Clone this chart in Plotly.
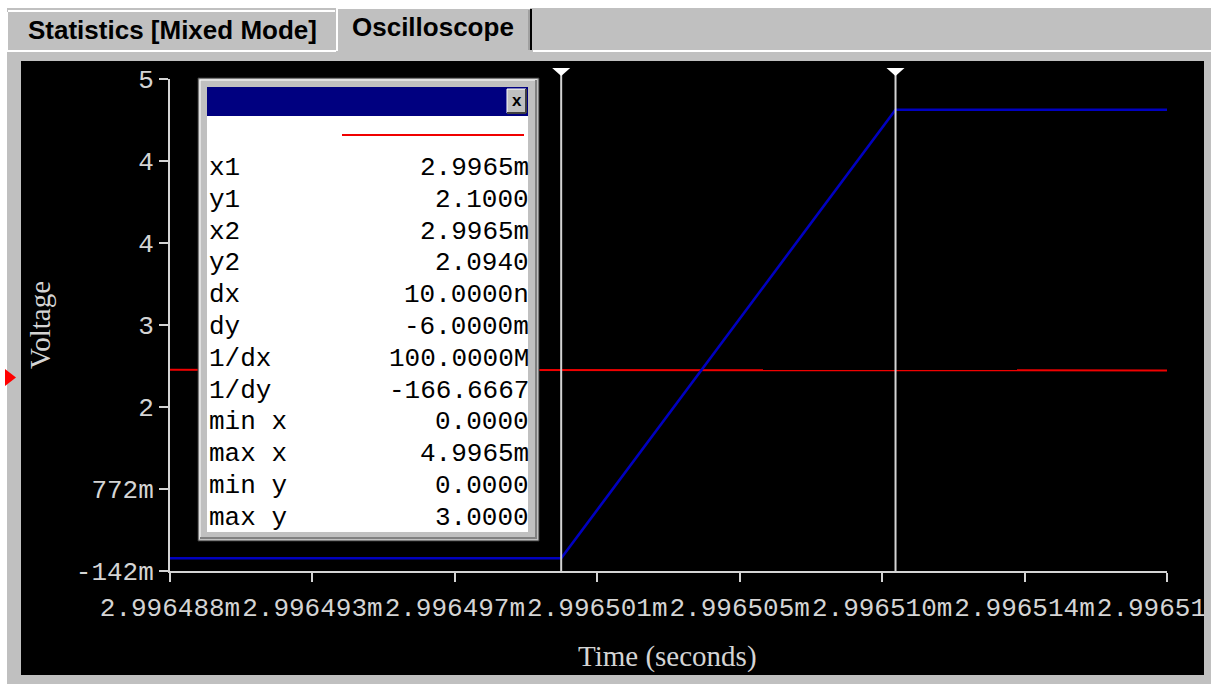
import plotly.graph_objects as go

# ---- figure geometry (pixels) ----
W, H = 1211, 684
PL, PR, PT, PB = 170, 1167, 79, 571  # plot-area bounds


def px(x):
    return (x - PL) / (PR - PL)


def py(y):
    return (PB - y) / (PB - PT)


# ---- time axis (milliseconds) ----
t_start = 2.9964884
t_end = 2.99651822
t_step = 0.00000426
x_ticklabels = ["2.996488m", "2.996493m", "2.996497m", "2.996501m",
                "2.996505m", "2.996510m", "2.996514m", "2.996518m"]

# ---- voltage axis ----
v_lo, v_hi = -0.142, 5.342
v_step = 0.914
y_ticklabels = ["-142m", "772m", "2", "3", "4", "4", "5"]

# ---- traces ----
blue_t = [t_start, 2.9965001, 2.9965101, t_end]
blue_v = [0.0, 0.0, 5.0, 5.0]

red_t = [t_start, 2.99650515, 2.99650515, t_end]
red_v = [2.1, 2.1, 2.094, 2.094]

# ---- cursors ----
cursor_t = [2.9965001, 2.9965101]

# ---- cursor readout ----
readout_names = ["x1", "y1", "x2", "y2", "dx", "dy", "1/dx", "1/dy",
                 "min x", "max x", "min y", "max y"]
readout_values = ["2.9965m", "2.1000", "2.9965m", "2.0940", "10.0000n",
                  "-6.0000m", "100.0000M", "-166.6667", "0.0000",
                  "4.9965m", "0.0000", "3.0000"]

MONO = "Liberation Mono"
SERIF = "Liberation Serif"
SANS = "Liberation Sans"
FACE = "#c0c0c0"
AXIS = "#d4d4d4"

fig = go.Figure()
fig.add_trace(go.Scatter(x=red_t, y=red_v, mode="lines",
                         line=dict(color="#f00000", width=2), hoverinfo="skip"))
fig.add_trace(go.Scatter(x=blue_t, y=blue_v, mode="lines",
                         line=dict(color="#0000c0", width=2.6), hoverinfo="skip"))

shapes = []


def rect(x0, y0, x1, y1, fill, layer="above", line=None):
    shapes.append(dict(type="rect", xref="paper", yref="paper",
                       x0=px(x0), x1=px(x1), y0=py(y0), y1=py(y1),
                       fillcolor=fill, layer=layer,
                       line=line or dict(width=0)))


def seg(x0, y0, x1, y1, color, width=1, layer="above"):
    shapes.append(dict(type="line", xref="paper", yref="paper",
                       x0=px(x0), x1=px(x1), y0=py(y0), y1=py(y1),
                       line=dict(color=color, width=width), layer=layer))


# window frame
rect(0, 0, W, 8, "white", layer="below")
rect(0, 0, 7, H, "white", layer="below")
rect(21, 61, 1204, 675, "black", layer="below")
rect(1204, 52, W, H, FACE)

# tabs
seg(8, 11, 335, 11, "white", 2, layer="below")
seg(7, 12, 7, 50, "white", 2, layer="below")
seg(7, 51, 336, 51, "white", 2, layer="below")
seg(533, 51, W, 51, "white", 2, layer="below")
seg(337, 8, 337, 51, "white", 2, layer="below")
seg(338, 8, 530, 8, "white", 2, layer="below")
seg(531, 9, 531, 50, "#000000", 2, layer="below")
seg(529, 10, 529, 50, "#808080", 1, layer="below")

# channel marker
shapes.append(dict(type="path", xref="paper", yref="paper",
                   path="M %f,%f L %f,%f L %f,%f Z" % (px(5), py(369), px(16), py(377.5),
                                                       px(5), py(386)),
                   fillcolor="#ff0000", line=dict(width=0), layer="above"))

# cursors
half_w = 9 * (t_end - t_start) / (PR - PL)
for ct in cursor_t:
    shapes.append(dict(type="line", xref="x", yref="paper", x0=ct, x1=ct,
                       y0=0, y1=py(70), line=dict(color=AXIS, width=2), layer="above"))
    shapes.append(dict(type="path", xref="x", yref="paper",
                       path="M %.10f,%f L %.10f,%f L %.10f,%f Z" % (
                           ct - half_w, py(68), ct + half_w, py(68), ct, py(76)),
                       fillcolor="white", line=dict(width=0), layer="above"))

# readout window
rect(198, 78, 539, 541, FACE, line=dict(color="#303030", width=1))
seg(200, 80, 537, 80, "white", 1)
seg(200, 80, 200, 539, "white", 1)
seg(536, 80, 536, 539, "#808080", 2)
seg(200, 538, 537, 538, "#808080", 2)
rect(207, 87, 528, 116, "#000080")
rect(507, 89, 526, 113, FACE)
seg(507, 89, 526, 89, "white", 1)
seg(507, 89, 507, 113, "white", 1)
seg(526, 89, 526, 113, "#404040", 2)
seg(507, 113, 526, 113, "#404040", 2)
rect(207, 116, 528, 532, "white")
seg(342, 135, 524, 135, "#f00000", 2)

annotations = []


def label(x, y, text, size, family, color, xanchor="center", angle=0, bold=False):
    annotations.append(dict(xref="paper", yref="paper", x=px(x), y=py(y),
                            text="<b>%s</b>" % text if bold else text,
                            showarrow=False, xanchor=xanchor, yanchor="middle",
                            textangle=angle,
                            font=dict(family=family, size=size, color=color)))


label(172, 30, "Statistics [Mixed Mode]", 26, SANS, "black", bold=True)
label(433, 27, "Oscilloscope", 26, SANS, "black", bold=True)
label(516.5, 101, "x", 17, SANS, "black", bold=True)
label(40, 325, "Voltage", 29, SERIF, AXIS, angle=-90)
label(667, 656, "Time (seconds)", 29, SERIF, AXIS)

for i, (name, val) in enumerate(zip(readout_names, readout_values)):
    yc = 168 + 31.8 * i
    label(207, yc, name, 26, MONO, "black", xanchor="left")
    label(531, yc, val, 26, MONO, "black", xanchor="right")

fig.update_layout(
    width=W, height=H,
    margin=dict(l=PL, r=W - PR, t=PT, b=H - PB, pad=0),
    paper_bgcolor=FACE, plot_bgcolor="black",
    showlegend=False,
    shapes=shapes, annotations=annotations,
    xaxis=dict(range=[t_start, t_end], showgrid=False, zeroline=False,
               showline=True, linecolor=AXIS, linewidth=2,
               ticks="outside", ticklen=9, tickwidth=2, tickcolor=AXIS,
               tickvals=[t_start + k * t_step for k in range(len(x_ticklabels))],
               ticktext=x_ticklabels, tickangle=0, automargin=False,
               ticklabeloverflow="allow", ticklabelstandoff=3,
               tickfont=dict(family=MONO, size=26, color=AXIS)),
    yaxis=dict(range=[v_lo, v_hi], showgrid=False, zeroline=False,
               showline=True, linecolor=AXIS, linewidth=2,
               ticks="outside", ticklen=9, tickwidth=2, tickcolor=AXIS,
               tickvals=[v_lo + k * v_step for k in range(len(y_ticklabels))],
               ticktext=y_ticklabels, automargin=False,
               tickfont=dict(family=MONO, size=26, color=AXIS)),
)

fig.write_html("out.html")
